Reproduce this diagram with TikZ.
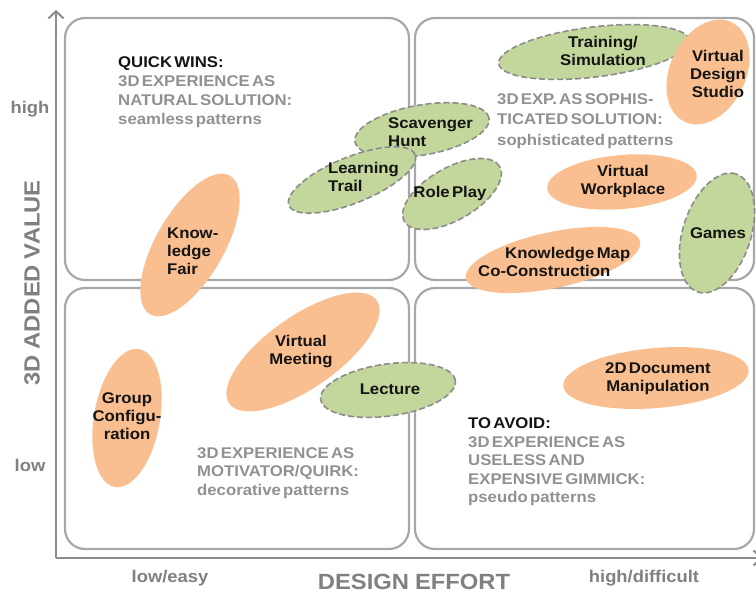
\documentclass[tikz,border=0pt]{standalone}
\usepackage{fontspec}
\setmainfont{Liberation Sans}[FakeStretch=1.08, WordSpace=0.5]
\newfontfamily\axfont{Liberation Sans}[FakeStretch=1.08, WordSpace=0.9]
\usetikzlibrary{shapes.geometric, arrows.meta}
\definecolor{orangeF}{RGB}{250,191,145}
\definecolor{greenF}{RGB}{195,214,155}
\definecolor{dashC}{RGB}{140,140,140}
\definecolor{boxC}{RGB}{168,168,168}
\definecolor{axisC}{RGB}{140,140,140}
\definecolor{darkT}{RGB}{20,20,20}
\definecolor{grayT}{RGB}{145,145,145}
\definecolor{axisT}{RGB}{128,128,128}
\tikzset{
  ell/.style={ellipse, inner sep=0pt, outer sep=0pt},
  orng/.style={ell, fill=orangeF, draw=none},
  grn/.style={ell, fill=greenF, draw=dashC, line width=1.6pt, dash pattern=on 6pt off 3pt},
  lab/.style={font=\bfseries\fontsize{15.5}{18}\selectfont, text=darkT, align=center, inner sep=0pt},
  labl/.style={lab, align=left, anchor=west},
  desc/.style={font=\bfseries\fontsize{15.5}{19}\selectfont, text=grayT, align=left, anchor=west, inner sep=0pt},
  quad/.style={draw=boxC, line width=2.2pt, rounded corners=20pt},
  axis/.style={draw=axisC, line width=2.4pt, -{Straight Barb[length=7pt,width=15pt,line width=2pt]}},
  axlab/.style={font=\bfseries\fontsize{17}{20}\selectfont, text=axisT, inner sep=0pt},
  axtitle/.style={font=\axfont\bfseries\fontsize{22}{24}\selectfont, text=axisT, inner sep=0pt}
}
\begin{document}
\begin{tikzpicture}[x=1pt, y=-1pt]
\useasboundingbox[fill=white] (0,0) rectangle (756,594);
% quadrants
\draw[quad] (65,18) rectangle (409,280);
\draw[quad] (415,18) rectangle (754,280);
\draw[quad] (65,288) rectangle (409,549);
\draw[quad] (415,288) rectangle (754,549);
% axes
\coordinate (origin) at (56,558);
\coordinate (ytop) at (56,10);
\coordinate (xend) at (762,558);
\draw[axis] (origin) -- (ytop);
\draw[axis] (origin) -- (xend);
% ellipses
\node[grn,  minimum width=192pt, minimum height=50pt, rotate=7]  (tsim) at (594,52) {};
\node[orng, minimum width=110pt, minimum height=76pt, rotate=65] (vds)  at (708,72) {};
\node[grn,  minimum width=136pt, minimum height=50pt, rotate=10] (sh)   at (422,130) {};
\node[grn,  minimum width=136pt, minimum height=46pt, rotate=22] (lt)   at (352,180) {};
\node[grn,  minimum width=110pt, minimum height=52pt, rotate=30] (rp)   at (452,194) {};
\node[orng, minimum width=150pt, minimum height=54pt, rotate=5]  (vw)   at (622,182) {};
\node[orng, minimum width=178pt, minimum height=56pt, rotate=12] (km)   at (553,260) {};
\node[grn,  minimum width=124pt, minimum height=68pt, rotate=72] (games) at (717,233) {};
\node[orng, minimum width=160pt, minimum height=68pt, rotate=60] (kf)   at (190,245) {};
\node[orng, minimum width=180pt, minimum height=72pt, rotate=35] (vm)   at (303,352) {};
\node[grn,  minimum width=136pt, minimum height=52pt, rotate=8]  (lec)  at (388,390) {};
\node[orng, minimum width=140pt, minimum height=66pt, rotate=80] (gc)   at (127,418) {};
\node[orng, minimum width=186pt, minimum height=60pt, rotate=5]  (doc)  at (656,378) {};
% ellipse labels
\node[lab]  (tsimT) at (603,51) {Training/\\Simulation};
\node[lab]  (vdsT)  at (718,74) {Virtual\\Design\\Studio};
\node[labl] (shT)   at (388,132) {Scavenger\\Hunt};
\node[labl] (ltT)   at (328,177) {Learning\\Trail};
\node[lab]  (rpT)   at (450,193) {Role Play};
\node[lab]  (vwT)   at (623,181) {Virtual\\Workplace};
\node[labl] (kmT)   at (478,262) {\hspace*{27pt}Knowledge Map\\Co-Construction};
\node[lab]  (gamesT) at (718,233) {Games};
\node[labl] (kfT)   at (167,251) {Know-\\ledge\\Fair};
\node[lab]  (vmT)   at (301,352) {Virtual\\Meeting};
\node[lab]  (lecT)  at (390,389) {Lecture};
\node[lab]  (gcT)   at (127,416) {Group\\Configu-\\ration};
\node[lab]  (docT)  at (658,379) {2D Document\\Manipulation};
% quadrant descriptions
\node[desc] (q1) at (118,92) {\textcolor{darkT}{QUICK WINS:}\\3D EXPERIENCE AS\\NATURAL SOLUTION:\\seamless patterns};
\node[desc, font=\bfseries\fontsize{15.5}{20.5}\selectfont] (q2) at (497,121) {3D EXP. AS SOPHIS-\\TICATED SOLUTION:\\sophisticated patterns};
\node[desc, font=\bfseries\fontsize{15.5}{18.5}\selectfont] (q3) at (197,473) {3D EXPERIENCE AS\\MOTIVATOR/QUIRK:\\decorative patterns};
\node[desc, font=\bfseries\fontsize{15.5}{18.5}\selectfont] (q4) at (468,462) {\textcolor{darkT}{TO AVOID:}\\3D EXPERIENCE AS\\USELESS AND\\EXPENSIVE GIMMICK:\\pseudo patterns};
% axis labels
\node[axlab] (hi) at (30,109) {high};
\node[axlab] (lo) at (30,465) {low};
\node[axtitle, rotate=90] (yl) at (32,283) {3D ADDED VALUE};
\node[axtitle] (xl) at (414,582) {DESIGN EFFORT};
\node[axlab] (le) at (170,578) {low/easy};
\node[axlab] (hd) at (644,578) {high/difficult};
\end{tikzpicture}
\end{document}
